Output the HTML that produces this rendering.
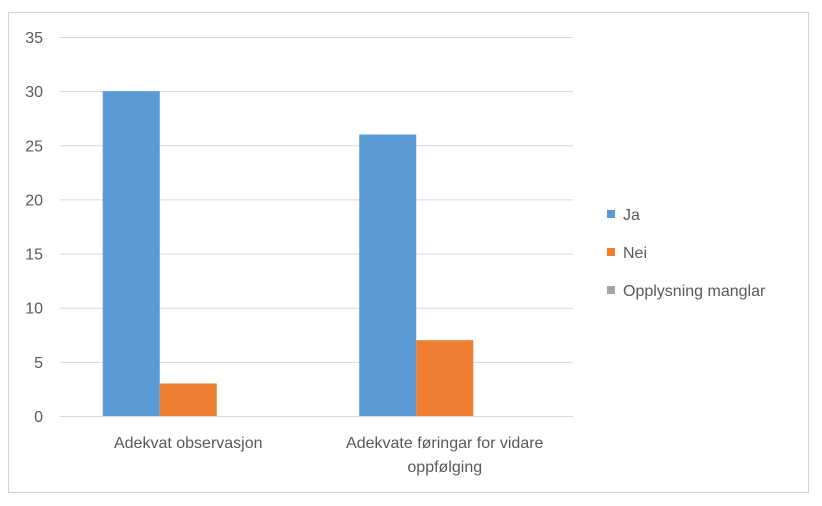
<!DOCTYPE html>
<html><head><meta charset="utf-8"><style>
body{margin:0;background:#fff;width:822px;height:506px;overflow:hidden;font-family:"Liberation Sans",sans-serif;}
svg{position:absolute;left:0;top:0;}
</style></head><body>
<svg id="chart" width="822" height="506" xmlns="http://www.w3.org/2000/svg">
<rect x="8.5" y="12.5" width="800" height="480" fill="#fff" stroke="#d0d0d0"/>
<g id="grid"></g><g id="bars"></g><g id="labels"></g><g id="legend"></g>
</svg>
<script>
const categories=[["Adekvat observasjon"],["Adekvate føringar for vidare","oppfølging"]];
const seriesNames=["Ja","Nei","Opplysning manglar"];
const jaValues=[30,26];
const neiValues=[3,7];
const manglarValues=[0,0];
const yTicks=[0,5,10,15,20,25,30,35];
const colors=["#5b9bd5","#ed7d31","#a5a5a5"];
const NS="http://www.w3.org/2000/svg";
const x0=60,x1=573,y0=416,yTop=37,yMax=35;
function y(v){return y0-(v/yMax)*(y0-yTop);}
function mk(t,a,p){const e=document.createElementNS(NS,t);for(const k in a)e.setAttribute(k,a[k]);p.appendChild(e);return e;}
const grid=document.getElementById('grid');
yTicks.forEach(t=>{
 const l=mk('line',{x1:x0,x2:x1,y1:y(t)+0.5,y2:y(t)+0.5,stroke:t===0?'#d9d9d9':'#e3cfe3','stroke-width':1},grid);
 
 
 const tx=mk('text',{x:43,y:y(t)+6,'text-anchor':'end','font-size':16,fill:'#595959'},grid);
 tx.textContent=t;
 
 
});
const series=[jaValues,neiValues,manglarValues];
const cw=(x1-x0)/categories.length, bw=57, gap=(cw-3*bw)/2;
const bars=document.getElementById('bars');
categories.forEach((c,i)=>{
 series.forEach((s,j)=>{
  const bx=x0+i*cw+gap+j*bw;
  const r=mk('rect',{x:bx,y:y(s[i]),width:bw,height:y0-y(s[i]),fill:colors[j]},bars);
  
  
 });
 c.forEach((line,k)=>{
  const t=mk('text',{x:x0+i*cw+cw/2,y:448+k*24,'text-anchor':'middle','font-size':16,fill:'#595959'},document.getElementById('labels'));
  t.textContent=line;
  
  
 });
});
const lg=document.getElementById('legend');
seriesNames.forEach((n,j)=>{
 const yy=214+j*38;
 const r=mk('rect',{x:607,y:yy-4,width:8,height:8,fill:colors[j]},lg);
 
 
 const t=mk('text',{x:623,y:yy+6,'font-size':16,fill:'#595959'},lg);
 t.textContent=n;
 
 
});
</script>
</body></html>
